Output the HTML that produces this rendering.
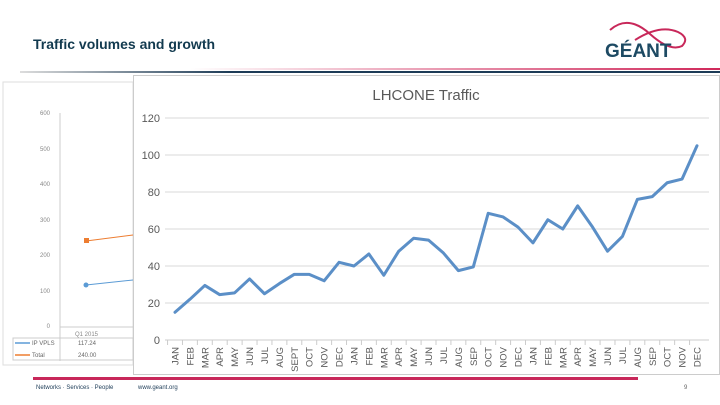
<!DOCTYPE html>
<html><head><meta charset="utf-8"><style>
body{margin:0;width:720px;height:405px;overflow:hidden;background:#fff;font-family:"Liberation Sans",sans-serif;position:relative}
.abs{position:absolute}
</style></head><body>
<div class="abs" style="left:33px;top:36px;font-size:14px;font-weight:bold;color:#123a4f;">Traffic volumes and growth</div>
<div class="abs" style="left:20px;top:71px;width:700px;height:2px;background:linear-gradient(90deg,#ddd,#1d3c57 30%,#1d3c57)"></div>
<div class="abs" style="left:190px;top:68px;width:530px;height:2px;background:linear-gradient(90deg,rgba(200,30,80,0),#d0285a)"></div>
<svg class="abs" style="left:600px;top:12px" width="100" height="50">
<path d="M10 18 Q28 2 50 22 Q70 40 82 34 Q90 26 78 20 Q60 12 35 28" fill="none" stroke="#c8285a" stroke-width="2"/>
<text x="5" y="45" font-size="19" font-weight="bold" fill="#1d4a63" font-family="Liberation Sans">GÉANT</text>
</svg>
<div class="abs" style="left:33px;top:377px;width:605px;height:3px;background:#c8285a"></div>
<div class="abs" style="left:36px;top:385px;font-size:6px;color:#1d3c57">Networks · Services · People</div>
<div class="abs" style="left:138px;top:385px;font-size:6px;color:#1d3c57">www.geant.org</div>
<div class="abs" style="left:684px;top:385px;font-size:6px;color:#666">9</div>

<svg class="abs" style="left:0;top:75px" width="135" height="295">
<rect x="3" y="7" width="130" height="283" fill="#fff" stroke="#ddd"/>
<g font-size="6" fill="#888" text-anchor="end" font-family="Liberation Sans">
<text x="50" y="40">600</text><text x="50" y="76">500</text><text x="50" y="111">400</text><text x="50" y="147">300</text><text x="50" y="182">200</text><text x="50" y="218">100</text><text x="50" y="253">0</text></g>
<line x1="60" y1="38" x2="60" y2="286" stroke="#ccc"/>
<line x1="60" y1="252" x2="133" y2="252" stroke="#ccc"/>
<line x1="86" y1="166" x2="133" y2="160" stroke="#ed7d31"/><rect x="84" y="163" width="5" height="5" fill="#ed7d31"/>
<line x1="86" y1="210" x2="133" y2="205" stroke="#5b9bd5"/><circle cx="86" cy="210" r="2.5" fill="#5b9bd5"/>
<text x="75" y="261" font-size="6" fill="#888">Q1 2015</text>
<rect x="13" y="263" width="120" height="22" fill="none" stroke="#ccc"/>
<line x1="15" y1="268" x2="30" y2="268" stroke="#5b9bd5" stroke-width="1.5"/><text x="32" y="270" font-size="6" fill="#666">IP VPLS</text><text x="78" y="270" font-size="6" fill="#666">117.24</text>
<line x1="15" y1="280" x2="30" y2="280" stroke="#ed7d31" stroke-width="1.5"/><text x="32" y="282" font-size="6" fill="#666">Total</text><text x="78" y="282" font-size="6" fill="#666">240.00</text>
</svg>

<svg id="chart" class="abs" style="left:133px;top:75px" width="587" height="300">
<rect x="0.5" y="0.5" width="586" height="299" fill="#fff" stroke="#ccc"/>
<text x="293" y="25" text-anchor="middle" font-size="15" fill="#595959" font-family="Liberation Sans">LHCONE Traffic</text>
</svg>
<script>
const months=["JAN","FEB","MAR","APR","MAY","JUN","JUL","AUG","SEPT","OCT","NOV","DEC","JAN","FEB","MAR","APR","MAY","JUN","JUL","AUG","SEP","OCT","NOV","DEC","JAN","FEB","MAR","APR","MAY","JUN","JUL","AUG","SEP","OCT","NOV","DEC"];
const traffic=[15,22,29.5,24.5,25.5,33,25,30.5,35.5,35.5,32,42,40,46.5,35,48,55,54,47,37.5,39.5,68.5,66.5,61,52.5,65,60,72.5,61,48,56,76,77.5,85,87,105];
const yTicks=[0,20,40,60,80,100,120];
const NS="http://www.w3.org/2000/svg";
const svg=document.getElementById('chart');
const x0=42,x1=564,yb=265,yt=43,ymax=120;
const X=i=>x0+i*(x1-x0)/(months.length-1);
const Y=v=>yb-v/ymax*(yb-yt);
function mk(t,a){const e=document.createElementNS(NS,t);for(const k in a)e.setAttribute(k,a[k]);svg.appendChild(e);return e;}
yTicks.forEach(v=>{
 const g=mk('line',{x1:32,x2:576,y1:Y(v),y2:Y(v),stroke:v===0?'#ccc':'#d9d9d9'});
 
 
 const t=mk('text',{x:27,y:Y(v)+4,'text-anchor':'end','font-size':11,fill:'#595959','font-family':'Liberation Sans'});
 t.textContent=v;
 
 
});
months.forEach((m,i)=>{
 const xx=X(i);
 const tk=mk('line',{x1:xx-7.45,x2:xx-7.45,y1:yb,y2:yb+5,stroke:'#ccc'});
 
 
 const t=mk('text',{x:0,y:0,'text-anchor':'end','font-size':9.5,fill:'#595959','font-family':'Liberation Sans',transform:`translate(${xx+3.5},${yb+7}) rotate(-90)`});
 t.textContent=m;
 
 
});
const p=mk('polyline',{points:traffic.map((v,i)=>X(i)+','+Y(v)).join(' '),fill:'none',stroke:'#5b8fc7','stroke-width':3,'stroke-linejoin':'round','stroke-linecap':'round'});


</script>
</body></html>
